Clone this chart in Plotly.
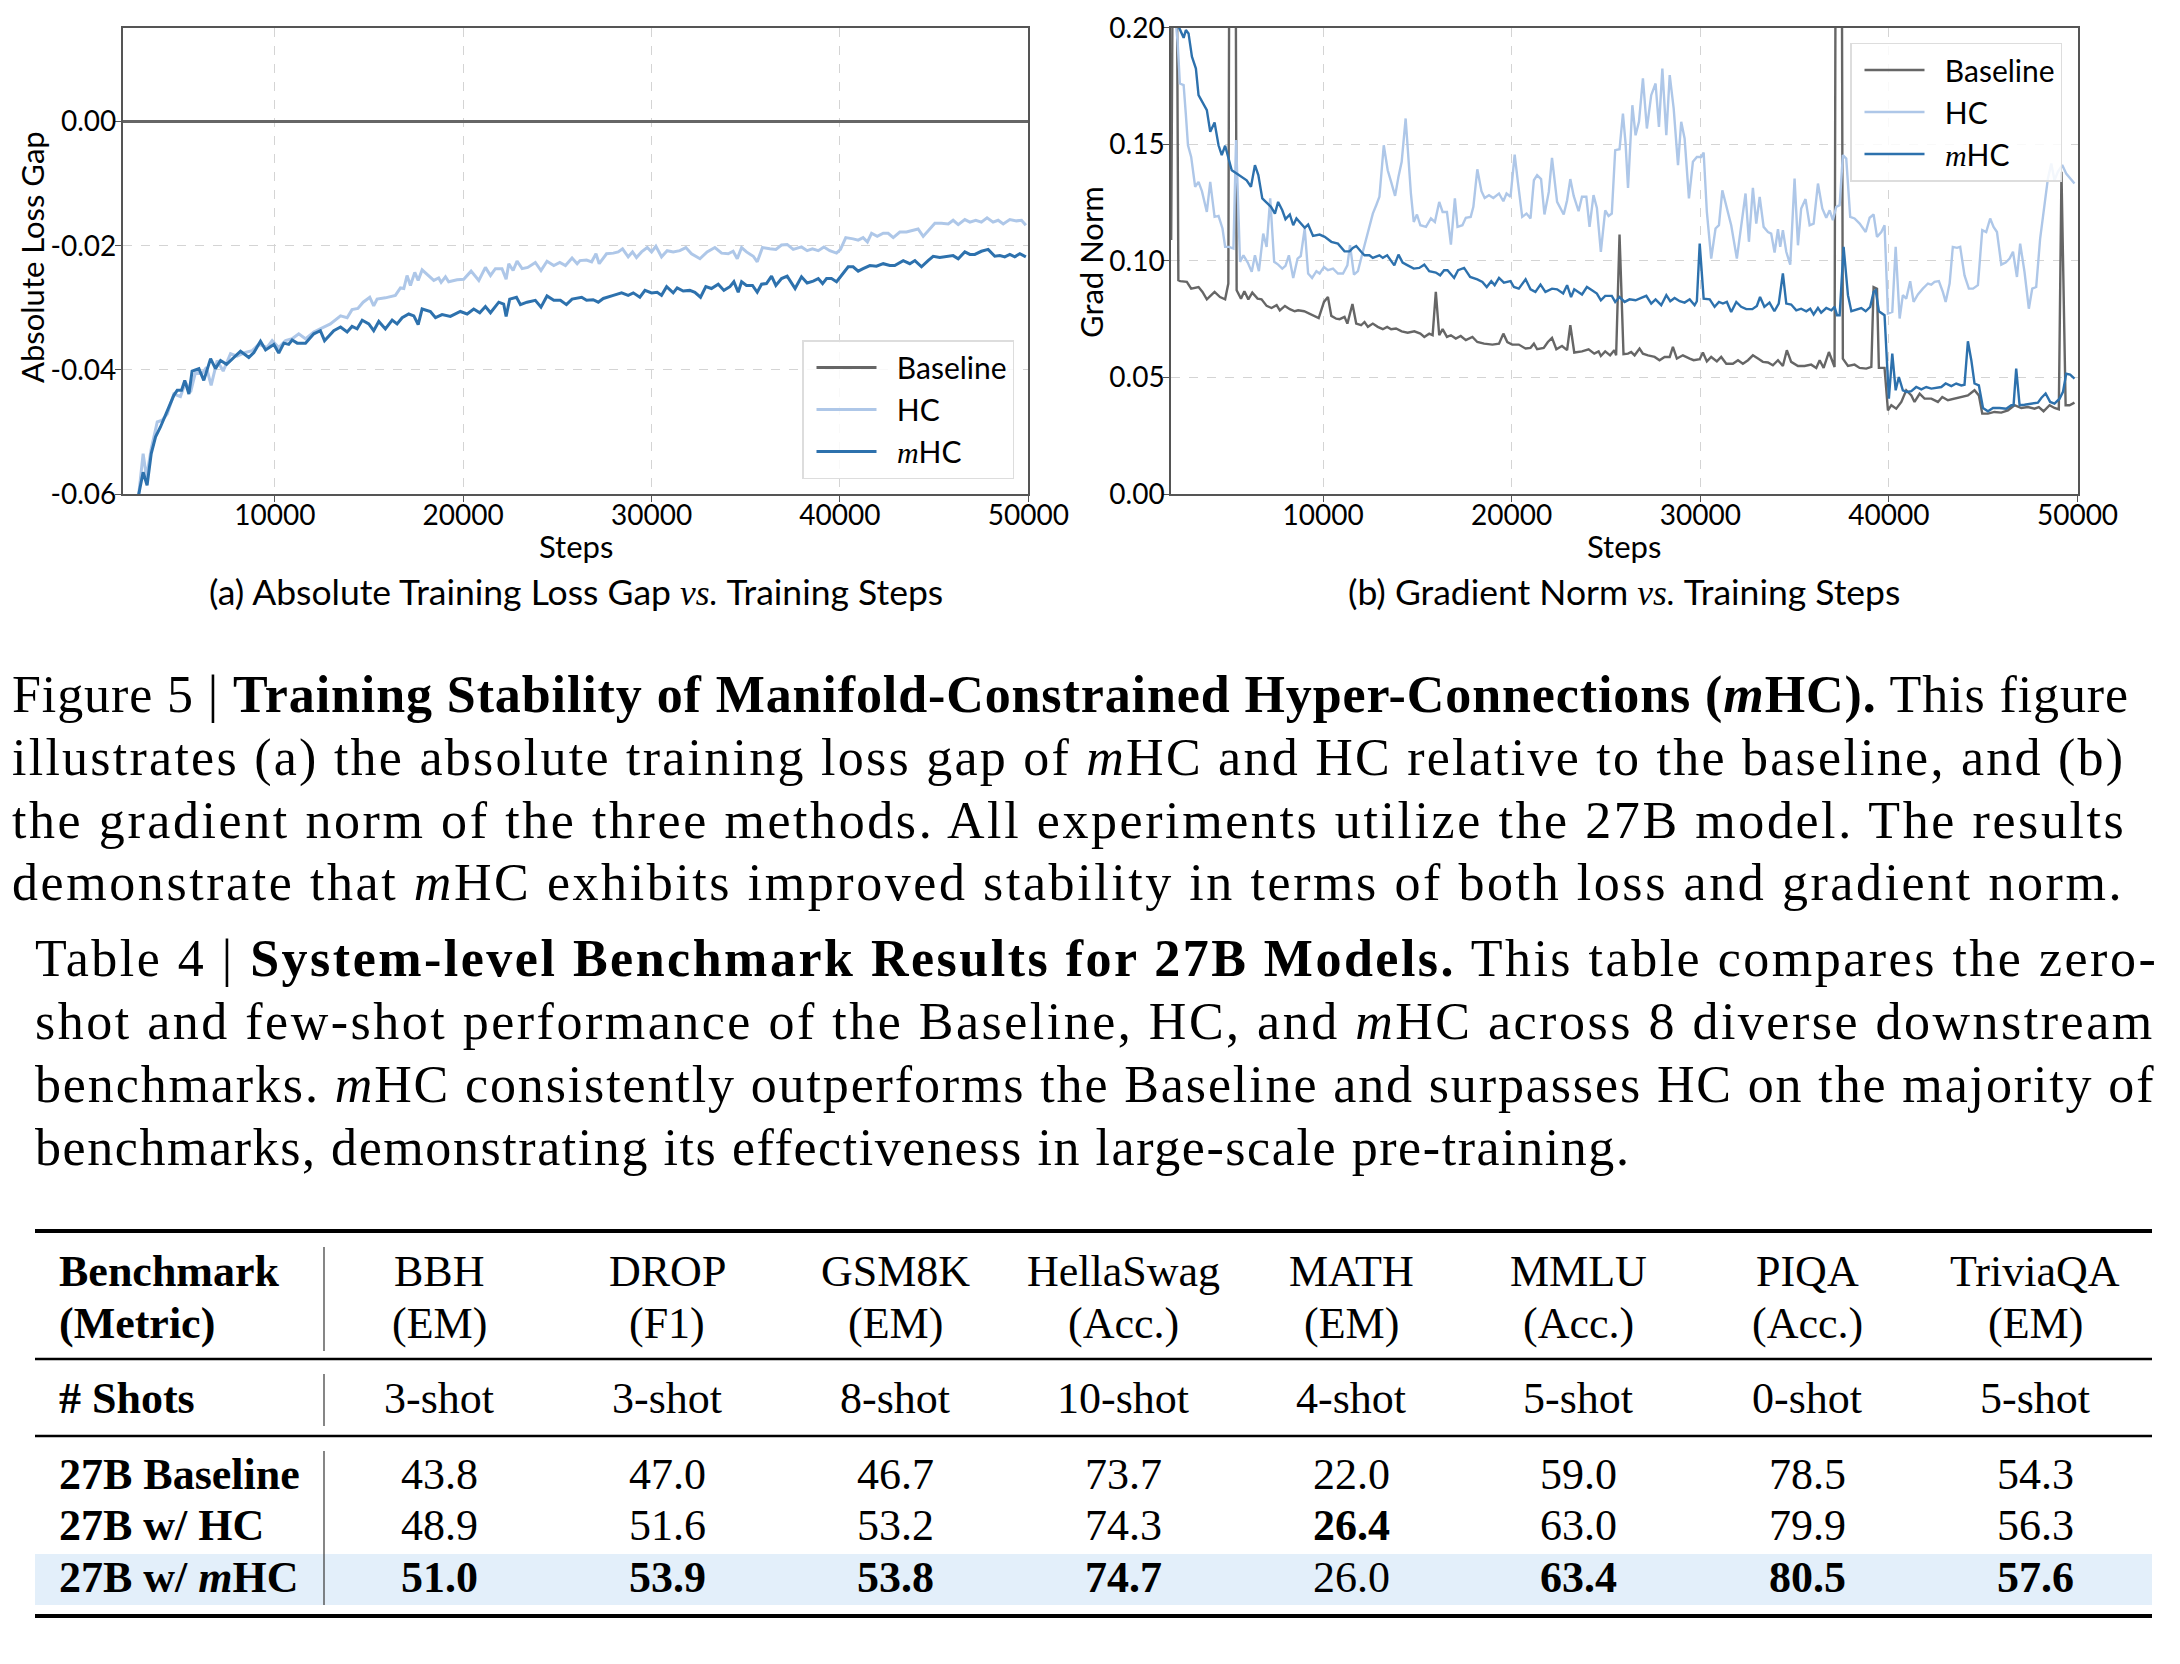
import plotly.graph_objects as go

# ---------------- data: (a) absolute loss gap ----------------
loss_base_steps = [1900, 10000, 20000, 30000, 40000, 50000]
loss_base_vals = [0.0, 0.0, 0.0, 0.0, 0.0, 0.0]

loss_hc_steps = [2600, 2780, 3010, 3190, 3440, 3760, 4020, 4290, 4640, 4990, 5260, 5530, 5790, 6140, 6370, 6620,
                 6940, 7260, 7650, 8000, 8440, 8800, 9150, 9590, 9860, 10210, 10570, 10920, 11270, 11630, 12070,
                 12510, 12950, 13490, 13840, 14100, 14410, 14690, 15040, 15250, 15430, 15870, 16400, 16670, 16850,
                 17020, 17200, 17430, 17610, 17820, 18170, 18440, 18700, 18830, 19060, 19230, 19680, 20030, 20420,
                 20830, 21180, 21450, 21710, 22060, 22280, 22420, 22650, 22860, 23130, 23430, 23830, 24130, 24450,
                 24810, 25130, 25430, 25780, 26050, 26200, 26550, 26820, 27050, 27220, 27610, 27970, 28230, 28460,
                 28760, 28990, 29200, 29470, 29770, 30000, 30230, 30530, 30830, 31150, 31500, 31820, 32120, 32570,
                 32950, 33360, 33720, 34070, 34330, 34550, 34780, 35040, 35400, 35610, 35890, 36280, 36600, 36900,
                 37200, 37520, 37960, 38260, 38540, 38850, 39150, 39460, 39820, 40030, 40310, 40700, 40970, 41230,
                 41460, 41680, 41980, 42300, 42560, 42830, 43180, 43530, 43890, 44150, 44420, 44770, 45040, 45390,
                 45750, 46010, 46280, 46630, 46900, 47210, 47510, 47810, 48130, 48400, 48670, 49020, 49370, 49640,
                 49870]
loss_hc_vals = [-0.068, -0.0600, -0.0535, -0.0573, -0.0527, -0.0484, -0.0481, -0.0471, -0.0439, -0.0443, -0.0420,
                -0.0436, -0.0404, -0.0406, -0.0396, -0.0425, -0.0385, -0.0402, -0.0374, -0.0378, -0.0372, -0.0369,
                -0.0359, -0.0364, -0.0353, -0.0364, -0.0353, -0.0350, -0.0342, -0.0350, -0.0339, -0.0332, -0.0326,
                -0.0313, -0.0316, -0.0303, -0.0301, -0.0291, -0.0283, -0.0297, -0.0286, -0.0284, -0.0280, -0.0268,
                -0.0269, -0.0248, -0.0264, -0.0243, -0.0256, -0.0239, -0.0248, -0.0256, -0.0252, -0.0259, -0.0250,
                -0.0258, -0.0255, -0.0254, -0.0241, -0.0256, -0.0235, -0.0248, -0.0237, -0.0237, -0.0254, -0.0229,
                -0.0240, -0.0225, -0.0237, -0.0235, -0.0227, -0.0240, -0.0225, -0.0232, -0.0227, -0.0232, -0.0220,
                -0.0229, -0.0224, -0.0223, -0.0226, -0.0213, -0.0229, -0.0213, -0.0212, -0.0210, -0.0205, -0.0218,
                -0.0210, -0.0219, -0.0210, -0.0203, -0.0210, -0.0201, -0.0218, -0.0208, -0.0210, -0.0208, -0.0203,
                -0.0213, -0.0221, -0.0210, -0.0203, -0.0212, -0.0213, -0.0209, -0.0221, -0.0203, -0.0210, -0.0217,
                -0.0226, -0.0203, -0.0205, -0.0206, -0.0199, -0.0198, -0.0206, -0.0202, -0.0208, -0.0205, -0.0208,
                -0.0202, -0.0208, -0.0212, -0.0206, -0.0187, -0.0189, -0.0191, -0.0187, -0.0194, -0.0180, -0.0185,
                -0.0180, -0.0180, -0.0187, -0.0178, -0.0178, -0.0175, -0.0173, -0.0185, -0.0174, -0.0164, -0.0164,
                -0.0165, -0.0159, -0.0166, -0.0158, -0.0162, -0.0159, -0.0162, -0.0155, -0.0162, -0.0159, -0.0165,
                -0.0158, -0.0160, -0.0159, -0.0167]

loss_mhc_steps = [2600, 2780, 3010, 3220, 3440, 3670, 3930, 4290, 4640, 4820, 5050, 5220, 5440, 5610, 5970, 6230,
                  6590, 6850, 7120, 7440, 7740, 8180, 8620, 8890, 9240, 9510, 9950, 10210, 10480, 10740, 10920,
                  11190, 11630, 12070, 12420, 12640, 13130, 13490, 13840, 14100, 14370, 14640, 14990, 15250, 15520,
                  15870, 16230, 16490, 16760, 17110, 17380, 17610, 17820, 18260, 18530, 18880, 19320, 19850, 20210,
                  20560, 20880, 21180, 21450, 21890, 22150, 22280, 22470, 22830, 23040, 23390, 23830, 24130, 24450,
                  24810, 25160, 25480, 25780, 26020, 26290, 26550, 26900, 27170, 27440, 27970, 28410, 28760, 29030,
                  29380, 29650, 30000, 30300, 30530, 30800, 31150, 31360, 31680, 32030, 32300, 32600, 32880, 33180,
                  33540, 33840, 34160, 34370, 34600, 34780, 35040, 35360, 35610, 35840, 36100, 36370, 36600, 36900,
                  37200, 37380, 37620, 37960, 38260, 38580, 38850, 39080, 39290, 39550, 39820, 40080, 40440, 40700,
                  40970, 41230, 41590, 41940, 42300, 42650, 42910, 43360, 43710, 43980, 44330, 44680, 44950, 45300,
                  45660, 46010, 46280, 46630, 46900, 47160, 47510, 47870, 48220, 48490, 48750, 49020, 49280, 49550,
                  49870]
loss_mhc_vals = [-0.068, -0.0600, -0.0565, -0.0586, -0.0535, -0.0508, -0.0492, -0.0465, -0.0441, -0.0433, -0.0433,
                 -0.0417, -0.0439, -0.0402, -0.0398, -0.0417, -0.0382, -0.0398, -0.0385, -0.0391, -0.0382, -0.0370,
                 -0.0380, -0.0372, -0.0354, -0.0368, -0.0359, -0.0373, -0.0357, -0.0359, -0.0352, -0.0357, -0.0357,
                 -0.0342, -0.0337, -0.0353, -0.0337, -0.0331, -0.0339, -0.0330, -0.0334, -0.0320, -0.0326, -0.0337,
                 -0.0322, -0.0334, -0.0320, -0.0326, -0.0316, -0.0310, -0.0313, -0.0327, -0.0302, -0.0306, -0.0316,
                 -0.0311, -0.0314, -0.0306, -0.0310, -0.0302, -0.0308, -0.0298, -0.0308, -0.0291, -0.0294, -0.0314,
                 -0.0286, -0.0283, -0.0295, -0.0291, -0.0288, -0.0299, -0.0281, -0.0288, -0.0288, -0.0295, -0.0286,
                 -0.0285, -0.0283, -0.0288, -0.0287, -0.0291, -0.0285, -0.0280, -0.0276, -0.0280, -0.0276, -0.0283,
                 -0.0272, -0.0276, -0.0275, -0.0280, -0.0266, -0.0276, -0.0268, -0.0273, -0.0272, -0.0275, -0.0283,
                 -0.0266, -0.0269, -0.0262, -0.0272, -0.0266, -0.0258, -0.0275, -0.0258, -0.0264, -0.0264, -0.0275,
                 -0.0262, -0.0261, -0.0249, -0.0264, -0.0253, -0.0249, -0.0258, -0.0269, -0.0250, -0.0260, -0.0257,
                 -0.0253, -0.0261, -0.0253, -0.0253, -0.0258, -0.0248, -0.0234, -0.0234, -0.0241, -0.0237, -0.0232,
                 -0.0233, -0.0229, -0.0232, -0.0232, -0.0224, -0.0229, -0.0224, -0.0234, -0.0224, -0.0217, -0.0219,
                 -0.0218, -0.0216, -0.0221, -0.0210, -0.0214, -0.0214, -0.0209, -0.0206, -0.0217, -0.0216, -0.0218,
                 -0.0214, -0.0218, -0.0213, -0.0218]

# ---------------- data: (b) gradient norm ----------------
grad_base_steps = [1950, 2150, 2330, 2430, 2780, 3010, 3400, 3610, 3840, 4250, 4540, 4810, 4980, 5070, 5330, 5420,
                   5650, 5830, 6040, 6250, 6530, 6740, 7010, 7270, 7540, 7710, 7980, 8240, 8500, 8680, 9000, 9380,
                   9770, 10050, 10260, 10440, 10700, 10880, 11140, 11290, 11560, 11760, 12020, 12200, 12380, 12640,
                   12900, 13170, 13400, 13610, 13870, 14170, 14490, 14840, 15160, 15370, 15630, 15810, 15980, 16160,
                   16340, 16570, 16780, 17040, 17300, 17570, 17920, 18180, 18540, 18980, 19330, 19560, 19770, 20030,
                   20380, 20740, 21000, 21180, 21350, 21700, 21920, 22140, 22370, 22670, 22940, 23110, 23320, 23730,
                   24080, 24380, 24610, 24730, 24960, 25220, 25440, 25540, 25720, 25930, 26170, 26340, 26520, 26780,
                   26960, 27230, 27580, 27840, 28110, 28380, 28550, 28760, 29080, 29440, 29650, 29970, 30140, 30350,
                   30580, 30880, 31110, 31380, 31730, 32000, 32260, 32530, 32790, 33060, 33320, 33590, 33850, 34120,
                   34380, 34590, 34820, 35180, 35530, 35880, 36150, 36330, 36540, 36820, 37120, 37210, 37470, 37560,
                   37830, 38180, 38450, 38800, 39070, 39190, 39370, 39470, 39770, 39950, 40130, 40390, 40660, 40920,
                   41190, 41360, 41630, 41890, 42250, 42600, 42830, 43130, 43480, 43840, 44190, 44540, 44770, 44950,
                   45250, 45600, 45960, 46310, 46660, 47020, 47370, 47720, 47950, 48200, 48520, 48780, 49010, 49150,
                   49370, 49580, 49840]
grad_base_vals = [0.109, 0.40, 0.0917, 0.0913, 0.0910, 0.0881, 0.0888, 0.0867, 0.0835, 0.0867, 0.0845, 0.0835,
                  0.0903, 0.35, 0.35, 0.0874, 0.0838, 0.0870, 0.0835, 0.0864, 0.0838, 0.0835, 0.0807, 0.0798, 0.0810,
                  0.0788, 0.0807, 0.0793, 0.0784, 0.0788, 0.0784, 0.0770, 0.0755, 0.0824, 0.0845, 0.0764, 0.0752,
                  0.0750, 0.0760, 0.0731, 0.0815, 0.0731, 0.0724, 0.0738, 0.0717, 0.0731, 0.0717, 0.0707, 0.0717,
                  0.0707, 0.0710, 0.0698, 0.0692, 0.0698, 0.0688, 0.0674, 0.0688, 0.0681, 0.0867, 0.0681, 0.0707,
                  0.0674, 0.0681, 0.0667, 0.0678, 0.0660, 0.0674, 0.0652, 0.0645, 0.0641, 0.0645, 0.0688, 0.0652,
                  0.0641, 0.0641, 0.0624, 0.0627, 0.0645, 0.0621, 0.0627, 0.0652, 0.0670, 0.0621, 0.0635, 0.0617,
                  0.0724, 0.0607, 0.0612, 0.0621, 0.0602, 0.0612, 0.0592, 0.0612, 0.0595, 0.0617, 0.0595, 0.1113,
                  0.0600, 0.0602, 0.0609, 0.0595, 0.0624, 0.0602, 0.0595, 0.0588, 0.0574, 0.0588, 0.0588, 0.0631,
                  0.0581, 0.0595, 0.0581, 0.0574, 0.0578, 0.0607, 0.0569, 0.0588, 0.0569, 0.0588, 0.0559, 0.0559,
                  0.0574, 0.0559, 0.0574, 0.0595, 0.0581, 0.0567, 0.0564, 0.0552, 0.0574, 0.0549, 0.0617, 0.0567,
                  0.0549, 0.0549, 0.0555, 0.0541, 0.0574, 0.0541, 0.0609, 0.0545, 0.35, 0.35, 0.0581, 0.0549, 0.0555,
                  0.0541, 0.0538, 0.0545, 0.0888, 0.0881, 0.0541, 0.0541, 0.0359, 0.0381, 0.0366, 0.0395, 0.0445,
                  0.0423, 0.0395, 0.0430, 0.0409, 0.0409, 0.0395, 0.0416, 0.0402, 0.0409, 0.0416, 0.0423, 0.0445,
                  0.0423, 0.0345, 0.0345, 0.0352, 0.0349, 0.0359, 0.0381, 0.0369, 0.0373, 0.0366, 0.0373, 0.0355,
                  0.0381, 0.0369, 0.0363, 0.1382, 0.0381, 0.0381, 0.0392]

grad_hc_steps = [2050, 2200, 2290, 2410, 2610, 2730, 2840, 3010, 3220, 3400, 3580, 3840, 4020, 4250, 4460, 4670,
                 4810, 5020, 5250, 5390, 5510, 5600, 5780, 6010, 6220, 6390, 6600, 6830, 7010, 7200, 7410, 7620,
                 7840, 8010, 8190, 8420, 8650, 8820, 9030, 9210, 9420, 9650, 9820, 10050, 10260, 10530, 10790, 11060,
                 11290, 11430, 11640, 11850, 12110, 12380, 12640, 12820, 12990, 13220, 13430, 13610, 13820, 14000,
                 14170, 14380, 14520, 14660, 14810, 14980, 15160, 15460, 15720, 15930, 16160, 16340, 16570, 16780,
                 16990, 17130, 17390, 17570, 17830, 17970, 18180, 18400, 18570, 18800, 19030, 19330, 19560, 19730,
                 19940, 20160, 20330, 20560, 20790, 21000, 21180, 21350, 21560, 21740, 21970, 22140, 22410, 22580,
                 22760, 22940, 23110, 23290, 23550, 23730, 23960, 24130, 24340, 24520, 24730, 24960, 25140, 25310,
                 25490, 25720, 25900, 26040, 26170, 26400, 26570, 26750, 26960, 27170, 27400, 27630, 27810, 27990,
                 28200, 28380, 28590, 28820, 28990, 29170, 29400, 29610, 29820, 30050, 30180, 30350, 30580, 30810,
                 30990, 31170, 31380, 31640, 31940, 32170, 32400, 32580, 32790, 32970, 33150, 33360, 33590, 33760,
                 33940, 34120, 34240, 34380, 34560, 34770, 35000, 35180, 35350, 35580, 35800, 36010, 36240, 36470,
                 36680, 36860, 37030, 37210, 37390, 37560, 37740, 37950, 38180, 38450, 38770, 38980, 39190, 39370,
                 39600, 39770, 39950, 40180, 40360, 40570, 40740, 40920, 41130, 41310, 41540, 41800, 42070, 42250,
                 42420, 42650, 42860, 43010, 43220, 43390, 43610, 43780, 44010, 44240, 44460, 44720, 44950, 45160,
                 45370, 45550, 45730, 45960, 46190, 46400, 46580, 46790, 46960, 47190, 47420, 47600, 47810, 48020,
                 48250, 48430, 48610, 48780, 48960, 49190, 49400, 49610, 49840]
grad_hc_vals = [0.215, 0.2011, 0.194, 0.1761, 0.1754, 0.1625, 0.1496, 0.1446, 0.1318, 0.1339, 0.1299, 0.1210,
                0.1339, 0.1189, 0.1193, 0.1139, 0.1060, 0.1060, 0.1053, 0.1518, 0.1153, 0.0996, 0.1024, 0.0993,
                0.0953, 0.1024, 0.0956, 0.1117, 0.1060, 0.1268, 0.0996, 0.0984, 0.0967, 0.0979, 0.1024, 0.0927,
                0.1010, 0.1021, 0.1139, 0.0946, 0.0927, 0.0956, 0.0946, 0.0974, 0.0960, 0.0967, 0.0946, 0.0946,
                0.0981, 0.1067, 0.0941, 0.0956, 0.1039, 0.1117, 0.1203, 0.1239, 0.1275, 0.1496, 0.1389, 0.1339,
                0.1279, 0.1361, 0.1425, 0.1611, 0.1425, 0.1289, 0.1167, 0.1199, 0.1153, 0.1146, 0.1182, 0.1167,
                0.1253, 0.1210, 0.1210, 0.1070, 0.1268, 0.1146, 0.1153, 0.1185, 0.1189, 0.1232, 0.1393, 0.1299,
                0.1270, 0.1282, 0.1270, 0.1289, 0.1256, 0.1289, 0.1275, 0.1456, 0.1339, 0.1189, 0.1203, 0.1182,
                0.1346, 0.1368, 0.1351, 0.1199, 0.1296, 0.1442, 0.1253, 0.1225, 0.1199, 0.1260, 0.1351, 0.1279,
                0.1213, 0.1275, 0.1275, 0.1146, 0.1282, 0.1227, 0.1039, 0.1217, 0.1193, 0.1203, 0.1475, 0.1479,
                0.1632, 0.1504, 0.1313, 0.1668, 0.1539, 0.1597, 0.1783, 0.1568, 0.1711, 0.1761, 0.1575, 0.1825,
                0.1539, 0.1797, 0.1654, 0.1411, 0.1597, 0.1525, 0.1268, 0.1425, 0.1446, 0.1446, 0.1465, 0.1210,
                0.1010, 0.1139, 0.1153, 0.1303, 0.1239, 0.1153, 0.1010, 0.1153, 0.1289, 0.1082, 0.1313, 0.1160,
                0.1275, 0.1146, 0.1124, 0.1117, 0.1036, 0.1136, 0.1060, 0.1132, 0.1039, 0.0984, 0.1353, 0.1067,
                0.1225, 0.1265, 0.1153, 0.1160, 0.1332, 0.1225, 0.1185, 0.1217, 0.1175, 0.1232, 0.1239, 0.1454,
                0.1439, 0.1189, 0.1182, 0.1160, 0.1124, 0.1185, 0.1199, 0.1103, 0.1124, 0.1153, 0.0774, 0.0781,
                0.1060, 0.0753, 0.0853, 0.0838, 0.0913, 0.0824, 0.0856, 0.0881, 0.0903, 0.0898, 0.0910, 0.0913,
                0.0867, 0.0824, 0.0903, 0.1060, 0.1056, 0.1060, 0.0938, 0.0881, 0.0881, 0.0896, 0.1132, 0.1124,
                0.1182, 0.1146, 0.1124, 0.0984, 0.0993, 0.1010, 0.1039, 0.0931, 0.1074, 0.0953, 0.0795, 0.0881,
                0.0888, 0.1096, 0.1239, 0.1353, 0.1418, 0.1346, 0.1382, 0.1411, 0.1375, 0.1356, 0.1332]

grad_mhc_steps = [1950, 2200, 2430, 2610, 2730, 2870, 3050, 3260, 3400, 3660, 3840, 4020, 4250, 4460, 4630, 4810,
                  5020, 5160, 5420, 5690, 5950, 6180, 6390, 6570, 6780, 7010, 7240, 7450, 7620, 7840, 8010, 8240,
                  8420, 8590, 8860, 9030, 9210, 9470, 9820, 10090, 10440, 10790, 11140, 11410, 11580, 11760, 12020,
                  12200, 12460, 12640, 12990, 13170, 13400, 13780, 14000, 14220, 14490, 14810, 15100, 15370, 15630,
                  15980, 16210, 16420, 16600, 16950, 17160, 17480, 17800, 18180, 18450, 18680, 18920, 19100, 19330,
                  19590, 19940, 20120, 20380, 20740, 21000, 21260, 21530, 21790, 22140, 22410, 22730, 22940, 23150,
                  23320, 23730, 23990, 24260, 24520, 24730, 24960, 25310, 25490, 25720, 25990, 26250, 26570, 26870,
                  27140, 27400, 27630, 27930, 28200, 28410, 28640, 28910, 29170, 29440, 29700, 29820, 29970, 30180,
                  30500, 30760, 30990, 31200, 31410, 31640, 31910, 32170, 32440, 32760, 33000, 33170, 33400, 33670,
                  33930, 34160, 34380, 34560, 34820, 35090, 35350, 35620, 35830, 36010, 36240, 36410, 36680, 36950,
                  37120, 37250, 37390, 37600, 37830, 38010, 38310, 38540, 38770, 39010, 39190, 39300, 39470, 39770,
                  40000, 40180, 40360, 40530, 40740, 40960, 41190, 41450, 41720, 41980, 42250, 42510, 42780, 43010,
                  43310, 43570, 43840, 44010, 44190, 44370, 44540, 44770, 44990, 45250, 45520, 45870, 46220, 46490,
                  46610, 46750, 46930, 47190, 47550, 47900, 48080, 48310, 48550, 48780, 49050, 49230, 49400, 49610,
                  49840]
grad_mhc_vals = [0.215, 0.203, 0.199, 0.1957, 0.199, 0.1976, 0.1876, 0.1825, 0.1711, 0.1675, 0.1647, 0.1554,
                 0.1594, 0.1496, 0.1454, 0.1494, 0.1432, 0.1389, 0.1375, 0.1361, 0.1346, 0.1318, 0.1411, 0.1368,
                 0.1268, 0.1250, 0.1232, 0.1203, 0.1253, 0.1217, 0.1179, 0.1199, 0.1153, 0.1182, 0.1156, 0.1142,
                 0.1156, 0.1107, 0.1113, 0.1103, 0.1082, 0.1074, 0.1041, 0.1041, 0.1056, 0.1064, 0.1039, 0.1024,
                 0.1024, 0.1013, 0.1024, 0.1013, 0.1024, 0.0981, 0.1027, 0.0993, 0.0981, 0.0967, 0.0970, 0.0984,
                 0.0956, 0.0950, 0.0938, 0.0960, 0.0960, 0.0927, 0.0960, 0.0970, 0.0931, 0.0921, 0.0910, 0.0888,
                 0.0913, 0.0896, 0.0927, 0.0907, 0.0913, 0.0888, 0.0881, 0.0921, 0.0878, 0.0867, 0.0898, 0.0867,
                 0.0881, 0.0878, 0.0860, 0.0896, 0.0845, 0.0878, 0.0856, 0.0888, 0.0874, 0.0860, 0.0831, 0.0850,
                 0.0850, 0.0824, 0.0845, 0.0824, 0.0835, 0.0831, 0.0841, 0.0850, 0.0817, 0.0835, 0.0810, 0.0853,
                 0.0827, 0.0841, 0.0827, 0.0821, 0.0835, 0.0810, 0.0827, 0.1074, 0.0838, 0.0835, 0.0803, 0.0824,
                 0.0817, 0.0824, 0.0781, 0.0824, 0.0803, 0.0793, 0.0793, 0.0807, 0.0845, 0.0803, 0.0821, 0.0784,
                 0.0817, 0.0946, 0.0817, 0.0813, 0.0788, 0.0795, 0.0784, 0.0795, 0.0770, 0.0798, 0.0778, 0.0798,
                 0.0788, 0.0803, 0.0767, 0.0767, 0.1060, 0.0853, 0.0784, 0.0793, 0.0798, 0.0784, 0.0803, 0.0867,
                 0.0874, 0.0784, 0.0767, 0.0409, 0.0602, 0.0445, 0.0502, 0.0445, 0.0438, 0.0441, 0.0459, 0.0449,
                 0.0459, 0.0452, 0.0455, 0.0459, 0.0474, 0.0463, 0.0474, 0.0466, 0.0469, 0.0655, 0.0574, 0.0474,
                 0.0466, 0.0369, 0.0355, 0.0369, 0.0369, 0.0366, 0.0381, 0.0381, 0.0538, 0.0381, 0.0383, 0.0388,
                 0.0392, 0.0412, 0.0431, 0.0395, 0.0388, 0.0409, 0.0438, 0.0516, 0.0512, 0.0495]

# ---------------- data: table ----------------
benchmarks = ["BBH", "DROP", "GSM8K", "HellaSwag", "MATH", "MMLU", "PIQA", "TriviaQA"]
metrics = ["(EM)", "(F1)", "(EM)", "(Acc.)", "(EM)", "(Acc.)", "(Acc.)", "(EM)"]
shots = ["3-shot", "3-shot", "8-shot", "10-shot", "4-shot", "5-shot", "0-shot", "5-shot"]
row_labels = ["27B Baseline", "27B w/ HC", "27B w/ <i>m</i>HC"]
scores_baseline = [43.8, 47.0, 46.7, 73.7, 22.0, 59.0, 78.5, 54.3]
scores_hc = [48.9, 51.6, 53.2, 74.3, 26.4, 63.0, 79.9, 56.3]
scores_mhc = [51.0, 53.9, 53.8, 74.7, 26.0, 63.4, 80.5, 57.6]

x_ticks = [10000, 20000, 30000, 40000, 50000]
x_ticktext = ["10000", "20000", "30000", "40000", "50000"]
loss_ticks = [0.0, -0.02, -0.04, -0.06]
loss_ticktext = ["0.00", "-0.02", "-0.04", "-0.06"]
grad_ticks = [0.0, 0.05, 0.10, 0.15, 0.20]
grad_ticktext = ["0.00", "0.05", "0.10", "0.15", "0.20"]

# ---------------- styling ----------------
PAGE_W, PAGE_H = 2180, 1664
OFF = 8  # default body margin of the html page
W, H = PAGE_W - 2 * OFF, PAGE_H - 2 * OFF
C_BASE = "#666666"
C_HC = "#aec7e8"
C_MHC = "#2d71ad"
SANS = "Lato"
SERIF = "Liberation Serif"
MATH_M = "<span style=\"font-family:Liberation Serif;font-style:italic\">m</span>"
GAP = "\u00a0\u00a0"


def px(x):
    return (x - OFF) / W


def py(y):
    return 1 - (y - OFF) / H


fig = go.Figure()

series_a = [("Baseline", loss_base_steps, loss_base_vals, C_BASE),
            ("HC", loss_hc_steps, loss_hc_vals, C_HC),
            ("mHC", loss_mhc_steps, loss_mhc_vals, C_MHC)]
series_b = [("Baseline", grad_base_steps, grad_base_vals, C_BASE),
            ("HC", grad_hc_steps, grad_hc_vals, C_HC),
            ("mHC", grad_mhc_steps, grad_mhc_vals, C_MHC)]


def disp(name):
    return GAP + (MATH_M + "HC" if name == "mHC" else name)


for name, xs, ys, col in series_a:
    fig.add_trace(go.Scatter(x=xs, y=ys, mode="lines", name=disp(name), legendgroup="a" + name,
                             line=dict(color=col, width=3.0), xaxis="x", yaxis="y", legend="legend"))
for name, xs, ys, col in series_b:
    fig.add_trace(go.Scatter(x=xs, y=ys, mode="lines", name=disp(name), legendgroup="b" + name,
                             line=dict(color=col, width=2.4), xaxis="x2", yaxis="y2", legend="legend2"))

axis_common = dict(showline=True, linecolor="#555555", linewidth=1.5, mirror=True, automargin=False,
                   showgrid=True, gridcolor="#d4d4d4", griddash="dash", gridwidth=1,
                   ticks="outside", ticklen=6, tickwidth=1.2, tickcolor="#555555",
                   tickfont=dict(family=SANS, size=28, color="black"), zeroline=False)
x_extra = dict(ticklabelstandoff=-10)
y_extra = dict(ticklabelstandoff=-7)

ydom = [py(494), py(27.8)]
legend_common = dict(bgcolor="rgba(255,255,255,0.85)", bordercolor="#dddddd", borderwidth=1.5,
                     font=dict(family=SANS, size=30, color="black"), itemwidth=60, tracegroupgap=0,
                     indentation=8)
fig.update_layout(
    width=W, height=H, margin=dict(l=0, r=0, t=0, b=0, pad=0), autosize=False,
    paper_bgcolor="white", plot_bgcolor="white",
    xaxis=dict(domain=[px(122.6), px(1028.3)], range=[1920, 50000], tickvals=x_ticks, ticktext=x_ticktext,
               anchor="y", **axis_common, **x_extra),
    yaxis=dict(domain=ydom, range=[-0.06, 0.0151], tickvals=loss_ticks, ticktext=loss_ticktext, anchor="x",
               **axis_common, **y_extra),
    xaxis2=dict(domain=[px(1171), px(2077.5)], range=[1940, 50000], tickvals=x_ticks, ticktext=x_ticktext,
                anchor="y2", **axis_common, **x_extra),
    yaxis2=dict(domain=ydom, range=[0, 0.2], tickvals=grad_ticks, ticktext=grad_ticktext, anchor="x2",
                **axis_common, **y_extra),
    legend=dict(x=px(1014), xanchor="right", y=py(479), yanchor="bottom", **legend_common),
    legend2=dict(x=px(2062), xanchor="right", y=py(42.5), yanchor="top", **legend_common),
    showlegend=True,
)

ann = []
# axis titles
ann.append(dict(text="Absolute Loss Gap", x=px(32), y=py(257), textangle=-90,
                font=dict(family=SANS, size=31, color="black")))
ann.append(dict(text="Grad Norm", x=px(1091), y=py(262), textangle=-90,
                font=dict(family=SANS, size=31, color="black")))
ann.append(dict(text="Steps", x=px(575.5), y=py(546), font=dict(family=SANS, size=31, color="black")))
ann.append(dict(text="Steps", x=px(1624), y=py(546), font=dict(family=SANS, size=31, color="black")))
VS = "<span style=\"font-family:Liberation Serif;font-style:italic\">vs.</span>"
ann.append(dict(text="(a) Absolute Training Loss Gap " + VS + " Training Steps", x=px(575.5), y=py(591),
                font=dict(family=SANS, size=35.5, color="black")))
ann.append(dict(text="(b) Gradient Norm " + VS + " Training Steps", x=px(1624), y=py(591),
                font=dict(family=SANS, size=35.5, color="black")))

# captions
fig_caption = [
    "Figure 5 | <b>Training Stability of Manifold-Constrained Hyper-Connections (<i>m</i>HC).</b> This figure",
    "illustrates (a) the absolute training loss gap of <i>m</i>HC and HC relative to the baseline, and (b)",
    "the gradient norm of the three methods. All experiments utilize the 27B model. The results",
    "demonstrate that <i>m</i>HC exhibits improved stability in terms of both loss and gradient norm.",
]
tab_caption = [
    "Table 4 | <b>System-level Benchmark Results for 27B Models.</b> This table compares the zero-",
    "shot and few-shot performance of the Baseline, HC, and <i>m</i>HC across 8 diverse downstream",
    "benchmarks. <i>m</i>HC consistently outperforms the Baseline and surpasses HC on the majority of",
    "benchmarks, demonstrating its effectiveness in large-scale pre-training.",
]
fig_cap_spacing = [0.90, 2.25, 2.58, 2.57]
tab_cap_spacing = [2.50, 2.50, 1.87, 1.57]
CAP_SIZE = 52


def spaced(line, ls):
    return "<span style=\"letter-spacing:%.2fpx\">%s</span>" % (ls, line)


for i, line in enumerate(fig_caption):
    ann.append(dict(text=spaced(line, fig_cap_spacing[i]), x=px(10), xanchor="left", y=py(695 + 62.6 * i),
                    font=dict(family=SERIF, size=CAP_SIZE, color="black")))
for i, line in enumerate(tab_caption):
    ann.append(dict(text=spaced(line, tab_cap_spacing[i]), x=px(33), xanchor="left", y=py(958 + 63.3 * i),
                    font=dict(family=SERIF, size=CAP_SIZE, color="black")))

# table
TS = 44
col_x = [439, 667, 895, 1123, 1351, 1578, 1807, 2035]
tfont = dict(family=SERIF, size=TS, color="black")
ann.append(dict(text="<b>Benchmark</b>", x=px(57), xanchor="left", y=py(1271), font=tfont))
ann.append(dict(text="<b>(Metric)</b>", x=px(57), xanchor="left", y=py(1323), font=tfont))
ann.append(dict(text="<b># Shots</b>", x=px(57), xanchor="left", y=py(1398), font=tfont))
row_y = [1474, 1525, 1577]
for r, lab in enumerate(row_labels):
    ann.append(dict(text="<b>" + lab + "</b>", x=px(57), xanchor="left", y=py(row_y[r]), font=tfont))
rows = [scores_baseline, scores_hc, scores_mhc]
for c in range(len(benchmarks)):
    ann.append(dict(text=benchmarks[c], x=px(col_x[c]), y=py(1271), font=tfont))
    ann.append(dict(text=metrics[c], x=px(col_x[c]), y=py(1323), font=tfont))
    ann.append(dict(text=shots[c], x=px(col_x[c]), y=py(1398), font=tfont))
    best = max(r[c] for r in rows)
    for r, vals in enumerate(rows):
        t = f"{vals[c]:.1f}"
        if vals[c] == best:
            t = "<b>" + t + "</b>"
        ann.append(dict(text=t, x=px(col_x[c]), y=py(row_y[r]), font=tfont))

for a in ann:
    a.setdefault("xref", "paper")
    a.setdefault("yref", "paper")
    a.setdefault("showarrow", False)
    a.setdefault("xanchor", "center")
    a.setdefault("yanchor", "middle")
fig.update_layout(annotations=ann)

shapes = []
shapes.append(dict(type="rect", xref="paper", yref="paper", x0=px(35), x1=px(2152), y0=py(1554), y1=py(1605),
                   fillcolor="#e3effa", line=dict(width=0), layer="below"))
for yy, w in [(1231, 4), (1359, 2.5), (1436, 2.5), (1616, 4)]:
    shapes.append(dict(type="line", xref="paper", yref="paper", x0=px(35), x1=px(2152), y0=py(yy), y1=py(yy),
                       line=dict(color="black", width=w)))
for y0, y1 in [(1247, 1351), (1374, 1426), (1451, 1605)]:
    shapes.append(dict(type="line", xref="paper", yref="paper", x0=px(324), x1=px(324), y0=py(y0), y1=py(y1),
                       line=dict(color="#444444", width=1.3)))
fig.update_layout(shapes=shapes)

fig.write_html("out.html")
